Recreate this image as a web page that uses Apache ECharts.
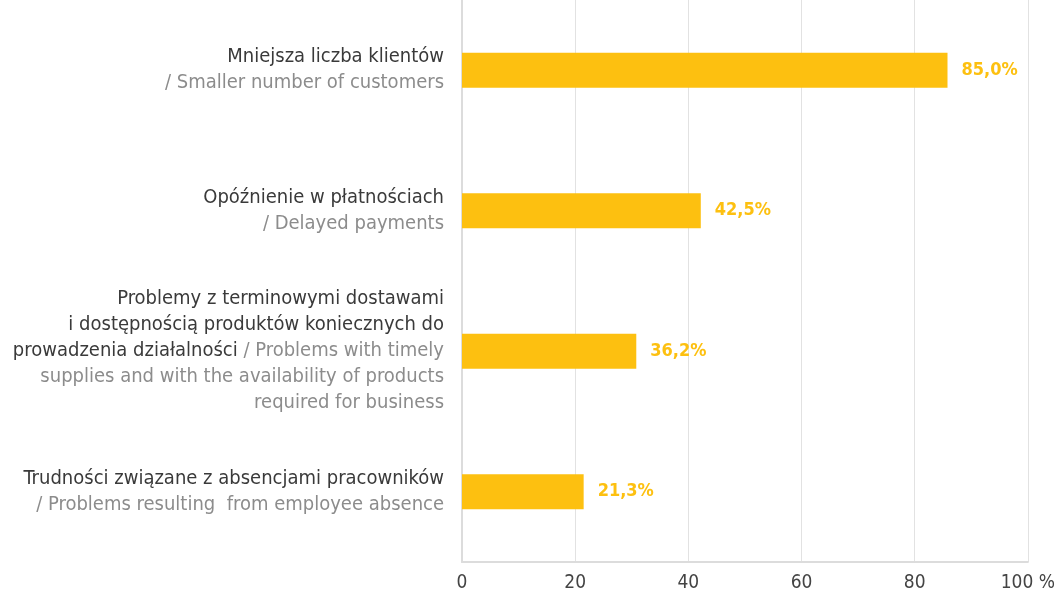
<!DOCTYPE html>
<html>
<head>
<meta charset="utf-8">
<script src="https://cdn.jsdelivr.net/npm/echarts@6/dist/echarts.min.js"></script>
<style>
  html, body { margin: 0; padding: 0; background: #fff; }
  #chart { width: 1058px; height: 597px; }
</style>
</head>
<body>
<div id="chart"></div>
<script>
// dane wykresu
const namesPl = [
  "Mniejsza liczba klientów",
  "Opóźnienie w płatnościach",
  "Problemy z terminowymi dostawami\ni dostępnością produktów koniecznych do\nprowadzenia działalności",
  "Trudności związane z absencjami pracowników"
];
const namesEn = [
  "\n/ Smaller number of customers",
  "\n/ Delayed payments",
  " / Problems with timely\nsupplies and with the availability of products\nrequired for business",
  "\n/ Problems resulting  from employee absence"
];
// długości słupków, podpisy jak na oryginale
const barValues = [85.8, 42.2, 30.8, 21.5];
const valueLabels = ["85,0%", "42,5%", "36,2%", "21,3%"];
const xTicks = [0, 20, 40, 60, 80, 100];

const FONT = "'DejaVu Sans Condensed', 'Liberation Sans Narrow', Roboto, sans-serif";
const chart = echarts.init(document.getElementById("chart"), null, { renderer: "canvas" });

chart.setOption({
  animation: false,
  grid: { left: 462, right: 28, top: 0, bottom: 35 },
  xAxis: {
    type: "value",
    min: xTicks[0],
    max: xTicks[xTicks.length - 1],
    interval: 20,
    axisLine: { show: true, lineStyle: { color: "#dcdcdc", width: 2 } },
    axisTick: { show: false },
    splitLine: { lineStyle: { color: "#e2e2e2", width: 1 } },
    axisLabel: {
      margin: 12,
      fontFamily: FONT,
      fontSize: 19,
      color: "#444",
      formatter: (v) => (v === xTicks[xTicks.length - 1] ? v + " %" : String(v))
    }
  },
  yAxis: {
    type: "category",
    inverse: true,
    data: namesPl.map((_, i) => i),
    axisLine: { show: true, lineStyle: { color: "#dcdcdc", width: 2 } },
    axisTick: { show: false },
    axisLabel: {
      margin: 18,
      align: "right",
      formatter: (i) => "{pl|" + namesPl[i] + "}{en|" + namesEn[i] + "}",
      rich: {
        pl: { fontFamily: FONT, fontSize: 20, color: "#3a3a3a", lineHeight: 26 },
        en: { fontFamily: FONT, fontSize: 20, color: "#8c8c8c", lineHeight: 26 }
      }
    }
  },
  series: [
    {
      type: "bar",
      data: barValues,
      barWidth: 35,
      itemStyle: { color: "#fdc010" },
      label: {
        show: true,
        position: "right",
        distance: 14,
        formatter: (p) => valueLabels[p.dataIndex],
        fontFamily: FONT,
        fontSize: 18,
        fontWeight: "bold",
        color: "#fdc010"
      }
    }
  ]
});
</script>
</body>
</html>
